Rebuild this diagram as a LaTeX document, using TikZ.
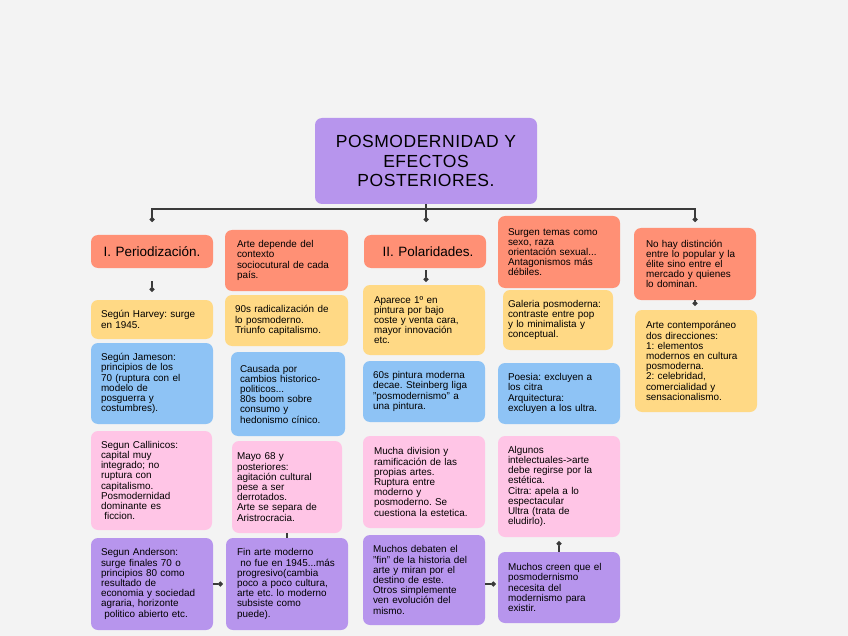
\documentclass[tikz,border=0pt]{standalone}
\usepackage{fontspec}
\setmainfont{Liberation Sans}
\usetikzlibrary{arrows.meta}
\definecolor{bg}{HTML}{F3F3F3}
\definecolor{salm}{HTML}{FF9075}
\definecolor{yell}{HTML}{FFD985}
\definecolor{blu}{HTML}{8EC3F5}
\definecolor{pnk}{HTML}{FFC5E6}
\definecolor{purp}{HTML}{B795ED}
\definecolor{linec}{HTML}{3A3A3A}
\frenchspacing
\begin{document}
\frenchspacing
\begin{tikzpicture}[x=1pt,y=-1pt,
  box/.style={rounded corners=7pt, inner xsep=10pt, inner ysep=0pt, align=left,
    font=\fontsize{9.9}{10.2}\selectfont, anchor=center},
  head/.style={box, align=center, font=\fontsize{13.5}{15}\selectfont},
  conn/.style={draw=linec, line width=1.2pt, -{Circle[length=5pt,width=5pt]}},
  plainc/.style={draw=linec, line width=1.2pt}]
\fill[bg] (0,0) rectangle (848,636);
\useasboundingbox (0,0) rectangle (848,636);

% title
\node[box, fill=purp, align=center, text width=208pt, inner xsep=7pt, minimum height=86pt,
  font=\fontsize{17.5}{19.5}\selectfont\addfontfeatures{LetterSpace=3}] (title) at (426,161)
  {POSMODERNIDAD Y\\EFECTOS\\POSTERIORES.};

% column 1
\node[head, fill=salm, text width=102pt, minimum height=33pt] (perio) at (152,251.5) {I. Periodización.};
\node[box, fill=yell, text width=102pt, minimum height=39pt] (harvey) at (152,319.5) {Según Harvey: surge\\en 1945.};
\node[box, fill=blu, text width=102pt, minimum height=81pt] (jameson) at (152,383.5) {Según Jameson:\\principios de los\\70 (ruptura con el\\modelo de\\posguerra y\\costumbres).};
\node[box, fill=pnk, text width=101pt, minimum height=99pt] (callinicos) at (151.5,480.5) {Segun Callinicos:\\capital muy\\integrado; no\\ruptura con\\capitalismo.\\Posmodernidad\\dominante es\\\ ficcion.};
\node[box, fill=purp, text width=102pt, minimum height=92pt] (anderson) at (152,584) {Segun Anderson:\\surge finales 70 o\\principios 80 como\\resultado de\\economia y sociedad\\agraria, horizonte\\\ politico abierto etc.};

% column 2
\node[box, fill=salm, inner xsep=12pt, text width=99pt, minimum height=61pt] (arte) at (286.5,260.5) {Arte depende del\\contexto\\sociocutural de cada\\país.};
\node[box, fill=yell, text width=103pt, minimum height=51pt] (ninety) at (286.5,320.5) {90s radicalización de\\lo posmoderno.\\Triunfo capitalismo.};
\node[box, fill=blu, inner xsep=9pt, text width=96pt, minimum height=84pt] (causada) at (288,394) {Causada por\\cambios historico-\\politicos...\\80s boom sobre\\consumo y\\hedonismo cínico.};
\node[box, fill=pnk, inner xsep=5pt, text width=100pt, minimum height=92pt] (mayo) at (287,487) {Mayo 68 y\\posteriores:\\agitación cultural\\pese a ser\\derrotados.\\Arte se separa de\\Aristrocracia.};
\node[box, fill=purp, inner xsep=11pt, text width=100pt, minimum height=92pt] (fin) at (287,584) {Fin arte moderno\\\ no fue en 1945...más\\progresivo(cambia\\poco a poco cultura,\\arte etc. lo moderno\\subsiste como\\puede).};

% column 3
\node[head, fill=salm, text width=102pt, minimum height=33pt] (polar) at (425,251.5) {\hspace*{6pt}II. Polaridades.};
\node[box, fill=yell, inner xsep=11pt, text width=100pt, minimum height=70pt] (aparece) at (424,320) {Aparece 1º en\\pintura por bajo\\coste y venta cara,\\mayor innovación\\etc.};
\node[box, fill=blu, text width=102pt, minimum height=61pt] (sixty) at (424,391.5) {60s pintura moderna\\decae. Steinberg liga\\"posmodernismo" a\\una pintura.};
\node[box, fill=pnk, inner xsep=11pt, text width=100pt, minimum height=92pt] (mucha) at (424,482) {Mucha division y\\ramificación de las\\propias artes.\\Ruptura entre\\moderno y\\posmoderno. Se\\cuestiona la estetica.};
\node[box, fill=purp, text width=102pt, minimum height=90pt] (debaten) at (424,580) {Muchos debaten el\\"fin" de la historia del\\arte y miran por el\\destino de este.\\Otros simplemente\\ven evolución del\\mismo.};

% column 4
\node[box, fill=salm, text width=102pt, minimum height=72pt] (surgen) at (559,252) {Surgen temas como\\sexo, raza\\orientación sexual...\\Antagonismos más\\débiles.};
\node[box, fill=yell, inner xsep=5pt, text width=100pt, minimum height=60pt] (galeria) at (558,320) {Galeria posmoderna:\\contraste entre pop\\y lo minimalista y\\conceptual.};
\node[box, fill=blu, text width=102pt, minimum height=61pt] (poesia) at (559,393.5) {Poesia: excluyen a\\los citra\\Arquitectura:\\excluyen a los ultra.};
\node[box, fill=pnk, text width=102pt, minimum height=101pt] (algunos) at (559,486.5) {Algunos\\intelectuales->arte\\debe regirse por la\\estética.\\Citra: apela a lo\\espectacular\\Ultra (trata de\\eludirlo).};
\node[box, fill=purp, text width=102pt, minimum height=71pt] (creen) at (559,587.5) {Muchos creen que el\\posmodernismo\\necesita del\\modernismo para\\existir.};

% column 5
\node[box, fill=salm, inner xsep=12pt, text width=98pt, minimum height=72pt] (nohay) at (695,264) {No hay distinción\\entre lo popular y la\\élite sino entre el\\mercado y quienes\\lo dominan.};
\node[box, fill=yell, inner xsep=11pt, text width=100pt, minimum height=102pt] (contemp) at (696,361) {Arte contemporáneo\\dos direcciones:\\1: elementos\\modernos en cultura\\posmoderna.\\2: celebridad,\\comercialidad y\\sensacionalismo.};

% connectors
\coordinate (hbar) at (426,209);
\coordinate (d1) at (152,222);
\coordinate (d2) at (426,222);
\coordinate (d3) at (695,222);
\coordinate (r3) at (0,584);
\draw[conn] (title.south) -- (hbar) -| (d1);
\draw[conn] (title.south) -- (d2);
\draw[conn] (title.south) -- (hbar) -| (d3);
\draw[conn, shorten <=13pt, shorten >=8pt] (perio) -- (harvey);
\draw[conn, shorten <=2pt, shorten >=3pt] (polar.south -| d2) -- (aparece.north -| d2);
\draw[conn, shorten >=3pt] (anderson.east) -- (anderson.east -| fin.west);
\draw[plainc] (mayo.south) -- (mayo.south |- fin.north);
\draw[conn, shorten >=2pt] (debaten.east |- r3) -- (creen.west |- r3);
\draw[conn, shorten >=4pt] (creen.north) -- (creen.north |- algunos.south);
\draw[conn, shorten >=4pt] (nohay.south) -- (nohay.south |- contemp.north);
\end{tikzpicture}
\end{document}
